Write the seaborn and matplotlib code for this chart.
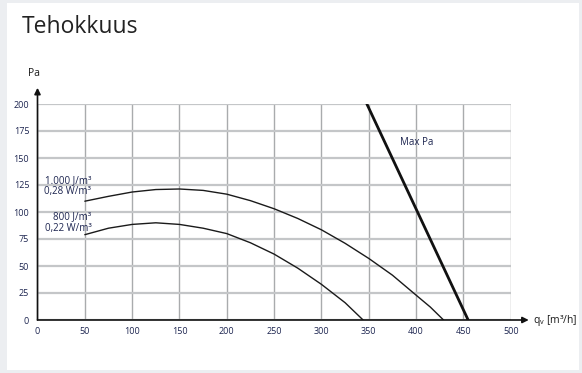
import matplotlib
matplotlib.use("Agg")
import matplotlib.pyplot as plt
from matplotlib.patches import Rectangle
import seaborn as sns
import pandas as pd

# Data
qv_1000 = [50, 75, 100, 125, 150, 175, 200, 225, 250, 275, 300, 325, 350, 375, 400, 415, 429]
pa_1000 = [110, 114.5, 118.5, 120.8, 121.3, 120, 116.5, 110.5, 103, 94, 83.5, 71, 57, 41.5, 23, 12, 0]
qv_800 = [50, 75, 100, 125, 150, 175, 200, 225, 250, 275, 300, 325, 344]
pa_800 = [79, 85, 88.5, 90, 88.5, 85, 80, 71.5, 61, 48, 33, 16, 0]
qv_max = [348, 455]
pa_max = [200, 0]
x_ticks = [0, 50, 100, 150, 200, 250, 300, 350, 400, 450, 500]
y_ticks = [0, 25, 50, 75, 100, 125, 150, 175, 200]
label_1000 = ["1.000 J/m³", "0,28 W/m³"]
label_800 = ["800 J/m³", "0,22 W/m³"]

sns.set_theme(style="white")
plt.rcParams['font.family'] = ['Open Sans', 'DejaVu Sans']

W, H = 582, 373
fig = plt.figure(figsize=(W / 100, H / 100), dpi=100)
fig.patch.set_facecolor("#eceef1")
fig.add_artist(Rectangle((7 / W, 3 / H), (579 - 7) / W, (370 - 3) / H,
                         transform=fig.transFigure, facecolor="white",
                         edgecolor="none", zorder=0))

ax = fig.add_axes([37.5 / W, (H - 320) / H, 473.25 / W, 216 / H])
ax.set_facecolor("white")

df1 = pd.DataFrame({"qv": qv_1000, "pa": pa_1000})
df2 = pd.DataFrame({"qv": qv_800, "pa": pa_800})
df3 = pd.DataFrame({"qv": qv_max, "pa": pa_max})
sns.lineplot(data=df1, x="qv", y="pa", ax=ax, color="#1a1a1a", lw=1.0, sort=False)
sns.lineplot(data=df2, x="qv", y="pa", ax=ax, color="#1a1a1a", lw=1.0, sort=False)
sns.lineplot(data=df3, x="qv", y="pa", ax=ax, color="#111111", lw=2.0, sort=False)

ax.set_xlim(0, 500)
ax.set_ylim(0, 200)
ax.set_xticks(x_ticks)
ax.set_yticks(y_ticks)
ax.set_xticklabels([str(t) for t in x_ticks])
ax.set_yticklabels([str(t) for t in y_ticks])
ax.tick_params(axis="both", length=0, labelsize=6.5, colors="#1d2550")
ax.tick_params(axis="x", pad=5)
ax.tick_params(axis="y", pad=6)
ax.set_xlabel("")
ax.set_ylabel("")

ax.xaxis.grid(True, color="#a9abad", lw=1.0)
ax.yaxis.grid(True, color="#c4c6c8", lw=1.6)
ax.set_axisbelow(True)
for s in ["top", "right", "left", "bottom"]:
    ax.spines[s].set_visible(False)

# axes with arrows
ax.annotate("", xy=(0, 215), xytext=(0, 0), xycoords="data",
            arrowprops=dict(arrowstyle="-|>", color="#111111", lw=1.2,
                            mutation_scale=9, shrinkA=0, shrinkB=0),
            annotation_clip=False)
ax.annotate("", xy=(519, 0), xytext=(0, 0), xycoords="data",
            arrowprops=dict(arrowstyle="-|>", color="#111111", lw=1.2,
                            mutation_scale=9, shrinkA=0, shrinkB=0),
            annotation_clip=False)

ax.text(-10, 228, "Pa", fontsize=7.5, color="#1a1a1a", ha="left", va="center",
        clip_on=False)
ax.text(523, 0, "q$_\\mathregular{v}$ [m³/h]", fontsize=7.5, color="#1a1a1a",
        ha="left", va="center", clip_on=False)

ax.text(57, 129.5, label_1000[0], fontsize=7, color="#1d2550", ha="right", va="center")
ax.text(57, 119, label_1000[1], fontsize=7, color="#1d2550", ha="right", va="center")
ax.text(57, 96, label_800[0], fontsize=7, color="#1d2550", ha="right", va="center")
ax.text(57, 85, label_800[1], fontsize=7, color="#1d2550", ha="right", va="center")
ax.text(383, 164, "Max Pa", fontsize=7, color="#1d2550", ha="left", va="center")

fig.text(22 / W, 1 - 27 / H, "Tehokkuus", fontsize=16.5, color="#222222",
         ha="left", va="center")

fig.savefig("out.png", dpi=100, facecolor=fig.get_facecolor())
